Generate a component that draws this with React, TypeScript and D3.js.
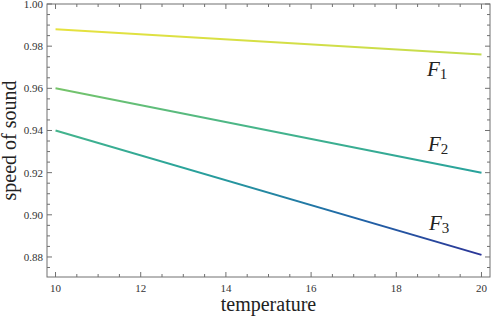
import React from 'react';
import * as d3 from 'd3';

// temperature values at which each curve is sampled
const temperature = [10, 20];
const F1 = [0.988, 0.976];
const F2 = [0.960, 0.920];
const F3 = [0.940, 0.881];

const seriesNames = ['1', '2', '3'];
const series = [F1, F2, F3];

const xTicks = [10, 12, 14, 16, 18, 20];
const yTicks = [0.88, 0.90, 0.92, 0.94, 0.96, 0.98, 1.00];

// colour depends on the speed value (blue -> green -> yellow)
const colorStops = [0.88, 0.90, 0.92, 0.94, 0.96, 0.976, 0.988];
const colorValues = ['#2c3296', '#1f6aa8', '#28a29c', '#44b48c', '#76c46a', '#c4dc4e', '#e6e23e'];

const W = 491;
const H = 317;
const margin = { top: 4, right: 1, bottom: 40, left: 47 };

const App = () => {
  const x = d3.scaleLinear().domain([9.8, 20.2]).range([margin.left, W - margin.right]);
  const y = d3.scaleLinear().domain([0.8705, 1.0]).range([H - margin.bottom, margin.top]);
  const color = d3.scaleLinear<string>().domain(colorStops).range(colorValues).interpolate(d3.interpolateRgb);

  const line = d3.line<number>()
    .x((_, i) => x(temperature[i]))
    .y(d => y(d));

  const x0 = x.range()[0], x1 = x.range()[1];
  const y0 = y.range()[0], y1 = y.range()[1];

  const xMinor = d3.range(10, 20.01, 0.5);
  const yMinor = d3.range(0.875, 1.0001, 0.005);

  const labelPos = [
    { t: 17.6, v: F1[1] + 0.0 },
  ];
  void labelPos;
  const labels = [
    { x: 427, y: 76 },
    { x: 428, y: 151 },
    { x: 429, y: 230 },
  ];

  const frame = '#707070';
  const font = '"Liberation Serif", "DejaVu Serif", serif';

  return (
    <svg width={W} height={H} style={{ position: 'absolute', left: 0, top: 0 }} fontFamily={font}>
      <defs>
        {series.map((s, i) => {
          const n = s.length - 1;
          const stops = d3.range(0, 11).map(k => {
            const v = s[0] + (s[n] - s[0]) * k / 10;
            return <stop key={k} offset={`${k * 10}%`} stopColor={color(v)} />;
          });
          return (
            <linearGradient key={i} id={`g${i}`} gradientUnits="userSpaceOnUse"
              x1={x(temperature[0])} y1={y(s[0])} x2={x(temperature[n])} y2={y(s[n])}>
              {stops}
            </linearGradient>
          );
        })}
      </defs>

      {series.map((s, i) => (
        <path key={i} d={line(s) || ''} fill="none" stroke={`url(#g${i})`} strokeWidth={2} />
      ))}

      {/* frame */}
      <rect x={x0} y={y1} width={x1 - x0} height={y0 - y1} fill="none" stroke={frame} strokeWidth={1} />

      {/* x ticks, bottom and top */}
      {xMinor.map((t, i) => {
        const major = xTicks.some(m => Math.abs(m - t) < 1e-6);
        const len = major ? 5 : 3;
        return (
          <g key={i} stroke={frame}>
            <line x1={x(t)} x2={x(t)} y1={y0} y2={y0 - len} />
            <line x1={x(t)} x2={x(t)} y1={y1} y2={y1 + len} />
          </g>
        );
      })}
      {xTicks.map(t => (
        <text key={t} x={x(t)} y={292} textAnchor="middle" fontSize={11} fill="#333">{t}</text>
      ))}

      {/* y ticks, left and right */}
      {yMinor.map((t, i) => {
        const major = yTicks.some(m => Math.abs(m - t) < 1e-6);
        const len = major ? 5 : 3;
        return (
          <g key={i} stroke={frame}>
            <line x1={x0} x2={x0 + len} y1={y(t)} y2={y(t)} />
            <line x1={x1} x2={x1 - len} y1={y(t)} y2={y(t)} />
          </g>
        );
      })}
      {yTicks.map(t => (
        <text key={t} x={x0 - 4} y={y(t) + 4} textAnchor="end" fontSize={11} fill="#333">{t.toFixed(2)}</text>
      ))}

      {/* axis labels */}
      <text x={(x0 + x1) / 2} y={311} textAnchor="middle" fontSize={20} fill="#222">temperature</text>
      <text transform={`translate(16,${(y0 + y1) / 2}) rotate(-90)`} textAnchor="middle" fontSize={20} fill="#222">speed of sound</text>

      {/* curve labels */}
      {labels.map((p, i) => (
        <text key={i} x={p.x} y={p.y} fontSize={21} fill="#222">
          <tspan fontStyle="italic">F</tspan>
          <tspan fontSize={15} dy={3}>{seriesNames[i]}</tspan>
        </text>
      ))}
    </svg>
  );
};

export default App;
